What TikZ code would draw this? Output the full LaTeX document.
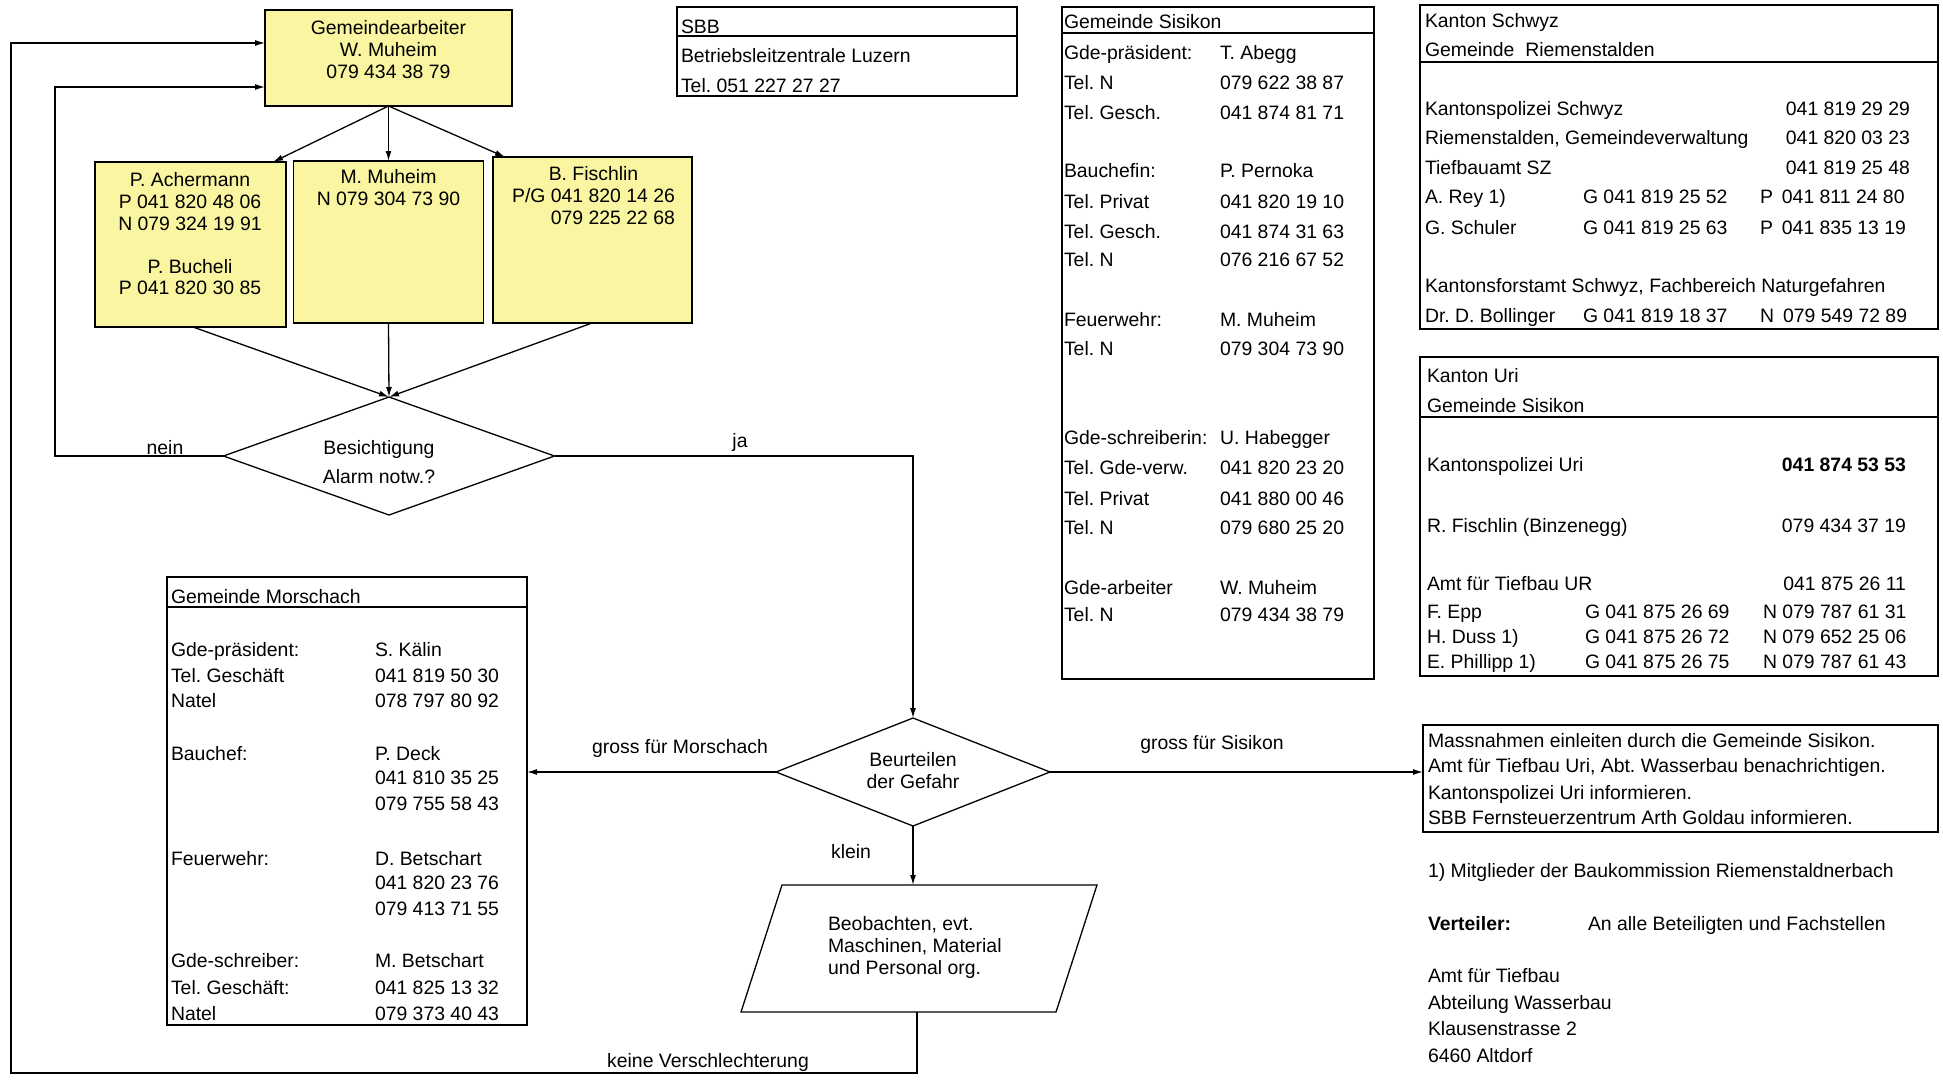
\documentclass[tikz,border=0pt]{standalone}
\usepackage{fontspec}
\setmainfont{Liberation Sans}
\usetikzlibrary{arrows.meta,shapes.geometric}
\definecolor{boxyellow}{RGB}{250,245,160}
\frenchspacing
\begin{document}
\begin{tikzpicture}[x=1pt,y=-1pt,
  every node/.style={inner sep=0pt, outer sep=0pt, font=\fontsize{19.4}{22}\selectfont},
  txt/.style={anchor=base west},
  rtxt/.style={anchor=base east},
  lbl/.style={anchor=center},
  ybox/.style={draw, line width=1.6pt, fill=boxyellow, anchor=north west},
  dbox/.style={draw, line width=1.6pt, anchor=north west},
  sepline/.style={line width=1.6pt},
  dec/.style={draw, diamond, line width=1.3pt},
  conn/.style={line width=1.3pt},
  arr/.style={conn, -{Latex[length=10pt,width=6pt]}},
]
\useasboundingbox (0,0) rectangle (1943,1080);

% ---------- flowchart boxes ----------
\node[ybox, minimum width=247, minimum height=96] (ga) at (265,10) {};
\node[ybox, minimum width=191, minimum height=165] (pa) at (95,162) {};
\node[ybox, minimum width=190, minimum height=162] (mm) at (293.5,161) {};
\node[ybox, minimum width=199, minimum height=166] (bf) at (493,157) {};

\node[align=center] (gat) at (388.5,50) {Gemeindearbeiter\\W. Muheim\\079 434 38 79};
\node[align=center, font=\fontsize{19.4}{21.6}\selectfont] (pat) at (190,234)
  {P. Achermann\\P 041 820 48 06\\N 079 324 19 91\\[21.6pt]P. Bucheli\\P 041 820 30 85};
\node[align=center] (mmt) at (388.5,187.5) {M. Muheim\\N 079 304 73 90};
\node (bft) at (593.5,198) {\begin{tabular}{@{}r@{}}\multicolumn{1}{@{}c@{}}{B. Fischlin}\\P/G 041 820 14 26\\079 225 22 68\end{tabular}};

% ---------- decisions ----------
\node[dec, minimum width=331, minimum height=118] (d1) at (389,456) {};
\node[align=center, font=\fontsize{19.4}{29}\selectfont] (d1t) at (379,462) {Besichtigung\\Alarm notw.?};
\node[dec, minimum width=274, minimum height=108] (d2) at (913,772) {};
\node[align=center] (d2t) at (913,771) {Beurteilen\\der Gefahr};

% ---------- parallelogram ----------
\coordinate (pTL) at (782,885);
\coordinate (pTR) at (1097,885);
\coordinate (pBR) at (1056,1012);
\coordinate (pBL) at (741,1012);
\coordinate (pIn) at (913,885);
\coordinate (pOut) at (917,1012);
\draw[conn] (pTL) -- (pTR) -- (pBR) -- (pBL) -- cycle;
\node[align=left, anchor=west] (part) at (828,947) {Beobachten, evt.\\Maschinen, Material\\und Personal org.};

% ---------- SBB ----------
\node[dbox, minimum width=340, minimum height=89] (sbb) at (677,7) {};
\draw[sepline] ([yshift=-29pt]sbb.north west) -- ([yshift=-29pt]sbb.north east);
\node[txt] (sbb1) at (681,33) {SBB};
\node[txt] (sbb2) at (681,62) {Betriebsleitzentrale Luzern};
\node[txt] (sbb3) at (681,92) {Tel. 051 227 27 27};

% ---------- Gemeinde Sisikon ----------
\node[dbox, minimum width=312, minimum height=672] (si) at (1062,7) {};
\draw[sepline] ([yshift=-26pt]si.north west) -- ([yshift=-26pt]si.north east);
\node[txt] (sih) at (1064,28) {Gemeinde Sisikon};
\foreach \yy/\ta/\tb [count=\i] in {52/Gde-präsident:/T. Abegg, 82/Tel. N/079 622 38 87, 112/Tel. Gesch./041 874 81 71,
  170/Bauchefin:/P. Pernoka, 201/Tel. Privat/041 820 19 10, 231/Tel. Gesch./041 874 31 63, 259/Tel. N/076 216 67 52,
  319/Feuerwehr:/M. Muheim, 348/Tel. N/079 304 73 90,
  437/Gde-schreiberin:/U. Habegger, 467/Tel. Gde-verw./041 820 23 20, 498/Tel. Privat/041 880 00 46, 527/Tel. N/079 680 25 20,
  587/Gde-arbeiter/W. Muheim, 614/Tel. N/079 434 38 79}
{
  \node[txt] (siL\i) at (1064,\yy+7) {\ta};
  \node[txt] (siR\i) at (1220,\yy+7) {\tb};
}

% ---------- Kanton Schwyz ----------
\node[dbox, minimum width=518, minimum height=324] (sz) at (1420,5) {};
\draw[sepline] ([yshift=-57pt]sz.north west) -- ([yshift=-57pt]sz.north east);
\node[txt] (szh1) at (1425,27) {Kanton Schwyz};
\node[txt] (szh2) at (1425,56) {Gemeinde~~Riemenstalden};
\foreach \yy/\ta [count=\i] in {108/Kantonspolizei Schwyz, 137.5/{Riemenstalden, Gemeindeverwaltung}, 167/Tiefbauamt SZ,
  196/A. Rey 1), 227/G. Schuler, 285/{Kantonsforstamt Schwyz, Fachbereich Naturgefahren}, 315/Dr. D. Bollinger}
{ \node[txt] (szL\i) at (1425,\yy+7) {\ta}; }
\foreach \yy/\ta [count=\i] in {108/041 819 29 29, 137.5/041 820 03 23, 167/041 819 25 48}
{ \node[rtxt] (szR\i) at (1910,\yy+7) {\ta}; }
\foreach \yy/\ta [count=\i] in {196/G 041 819 25 52, 227/G 041 819 25 63, 315/G 041 819 18 37}
{ \node[txt] (szG\i) at (1583,\yy+7) {\ta}; }
\foreach \yy/\ta/\tb [count=\i] in {196/P/041 811 24 80, 227/P/041 835 13 19, 315/N/079 549 72 89}
{ \node[txt] (szP\i) at (1760,\yy+7) {\ta\hspace{9pt}\tb}; }

% ---------- Kanton Uri ----------
\node[dbox, minimum width=518, minimum height=319] (ur) at (1420,357) {};
\draw[sepline] ([yshift=-60pt]ur.north west) -- ([yshift=-60pt]ur.north east);
\node[txt] (urh1) at (1427,382) {Kanton Uri};
\node[txt] (urh2) at (1427,412) {Gemeinde Sisikon};
\foreach \yy/\ta [count=\i] in {464/Kantonspolizei Uri, 525/R. Fischlin (Binzenegg), 583/Amt für Tiefbau UR,
  611/F. Epp, 636/H. Duss 1), 661/E. Phillipp 1)}
{ \node[txt] (urL\i) at (1427,\yy+7) {\ta}; }
\node[rtxt] (urR1) at (1906,471) {\textbf{041 874 53 53}};
\node[rtxt] (urR2) at (1906,532) {079 434 37 19};
\node[rtxt] (urR3) at (1906,590) {041 875 26 11};
\foreach \yy/\ta/\tb [count=\i] in {611/G 041 875 26 69/N 079 787 61 31, 636/G 041 875 26 72/N 079 652 25 06,
  661/G 041 875 26 75/N 079 787 61 43}
{
  \node[txt] (urG\i) at (1585,\yy+7) {\ta};
  \node[txt] (urN\i) at (1763,\yy+7) {\tb};
}

% ---------- Gemeinde Morschach ----------
\node[dbox, minimum width=360, minimum height=448] (mo) at (167,577) {};
\draw[sepline] ([yshift=-30pt]mo.north west) -- ([yshift=-30pt]mo.north east);
\node[txt] (moh) at (171,603) {Gemeinde Morschach};
\foreach \yy/\ta [count=\i] in {649/Gde-präsident:, 675/Tel. Geschäft, 700/Natel, 753/Bauchef:, 858/Feuerwehr:,
  960/Gde-schreiber:, 987/Tel. Geschäft:, 1013/Natel}
{ \node[txt] (moL\i) at (171,\yy+7) {\ta}; }
\foreach \yy/\ta [count=\i] in {649/S. Kälin, 675/041 819 50 30, 700/078 797 80 92, 753/P. Deck, 777/041 810 35 25,
  803/079 755 58 43, 858/D. Betschart, 882/041 820 23 76, 908/079 413 71 55, 960/M. Betschart,
  987/041 825 13 32, 1013/079 373 40 43}
{ \node[txt] (moR\i) at (375,\yy+7) {\ta}; }

% ---------- Massnahmen ----------
\node[dbox, minimum width=515, minimum height=107] (ma) at (1423,725) {};
\foreach \yy/\ta [count=\i] in {740/Massnahmen einleiten durch die Gemeinde Sisikon.,
  765/{Amt für Tiefbau Uri, Abt. Wasserbau benachrichtigen.}, 792/Kantonspolizei Uri informieren.,
  817/SBB Fernsteuerzentrum Arth Goldau informieren.}
{ \node[txt] (maT\i) at (1428,\yy+7) {\ta}; }

% ---------- notes ----------
\node[txt] (fn) at (1428,877) {1) Mitglieder der Baukommission Riemenstaldnerbach};
\node[txt] (vt) at (1428,930) {\textbf{Verteiler:}};
\node[txt] (vt2) at (1588,930) {An alle Beteiligten und Fachstellen};
\foreach \yy/\ta [count=\i] in {975/Amt für Tiefbau, 1002/Abteilung Wasserbau, 1028/Klausenstrasse 2, 1055/6460 Altdorf}
{ \node[txt] (ad\i) at (1428,\yy+7) {\ta}; }

% ---------- connectors ----------
\draw[arr] (ga.south) -- ([xshift=178pt]pa.north west);
\draw[arr] (ga.south) -- (mm.north);
\draw[arr] (ga.south) -- ([xshift=12pt]bf.north west);
\draw[arr] ([xshift=98pt]pa.south west) -- (d1.north);
\draw[arr] (mm.south) -- (d1.north);
\draw[arr] ([xshift=99pt]bf.south west) -- (d1.north);

\coordinate (cnein) at (55,87);
\draw[arr] (d1.west) -| (cnein) -- ([yshift=-29pt]ga.west);
\node[lbl] (lnein) at (165,448) {nein};

\draw[arr] (d1.east) -| (d2.north);
\node[lbl] (lja) at (740,442) {ja};

\draw[arr] (d2.west) -- (d2.west -| mo.east);
\node[lbl] (lgm) at (680,748) {gross für Morschach};
\draw[arr] (d2.east) -- (d2.east -| ma.west);
\node[lbl] (lgs) at (1212,744) {gross für Sisikon};
\draw[arr] (d2.south) -- (pIn);
\node[lbl] (lkl) at (851,852) {klein};

\coordinate (cb1) at (917,1073);
\coordinate (cb2) at (11,1073);
\draw[arr] (pOut) -- (cb1) -- (cb2) |- ([yshift=15pt]ga.west);
\node[lbl] (lkv) at (708,1062) {keine Verschlechterung};
\end{tikzpicture}
\end{document}
